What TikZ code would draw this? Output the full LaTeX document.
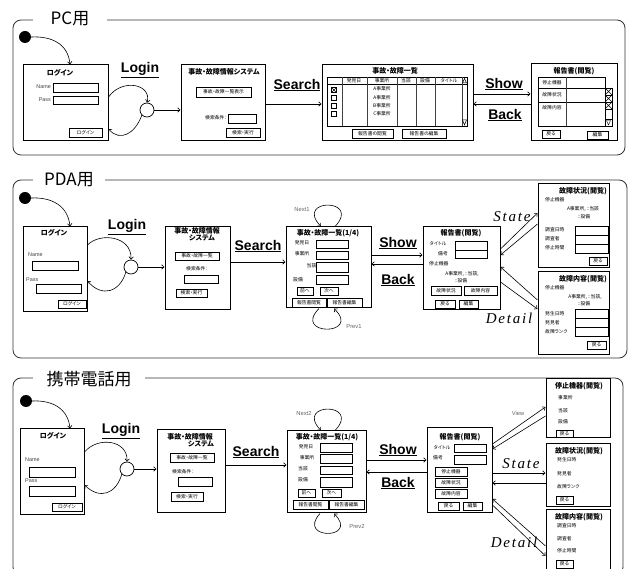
\documentclass[tikz,border=0pt]{standalone}
\usepackage{fontspec}
\setmainfont{Liberation Sans}
\newfontfamily\jp{Noto Sans CJK JP}[RawFeature=+palt]
\newfontfamily\ser{Liberation Serif}
\usetikzlibrary{arrows.meta,fit}
\newcount\tc
\newcommand\tx[3]{\global\advance\tc by 1 \node[#1] (t\the\tc) at (#2) {#3};}
\newcommand\fld[4]{\draw[fldst] (#1,#2) rectangle (#3,#4);}
\newcommand\btn[5]{\draw[btnst] (#1,#2) rectangle (#3,#4); \draw[line width=.9pt] (#1,#4) -- (#3,#4) -- (#3,#2);
  \global\advance\tc by 1 \node[sm] (t\the\tc) at ({(#1+#3)/2},{(#2+#4)/2}) {#5};}
\newcommand\scr[5]{\node[scrbox, fit={(#2,#3)(#4,#5)}] (#1) {};}
\newcommand\cbx[3]{\draw[line width=.5pt] (#1-2.5,#2-2.5) rectangle (#1+2.5,#2+2.5);
  \ifnum#3=1 \draw[line width=.4pt] (#1-2.5,#2-2.5) -- (#1+2.5,#2+2.5) (#1-2.5,#2+2.5) -- (#1+2.5,#2-2.5);\fi}
\tikzset{
  arr/.style={-{Straight Barb[length=2.5pt,width=4.5pt]}, line width=.6pt},
  scrbox/.style={draw, line width=1pt, inner sep=0pt, fill=white},
  frm/.style={draw=black!80, line width=.8pt, rounded corners=8pt, inner sep=0pt},
  ptitle/.style={font=\jp\fontsize{17}{19}\selectfont, fill=white, inner sep=0pt, minimum height=18pt},
  ttl/.style={font=\jp\bfseries\fontsize{7}{7.5}\selectfont, inner sep=0pt},
  sm/.style={font=\jp\fontsize{4.8}{5}\selectfont, inner sep=0pt},
  nm/.style={font=\fontsize{5.4}{6}\selectfont, text=black!75, inner sep=0pt},
  gr/.style={font=\fontsize{5.8}{6}\selectfont, text=black!60, inner sep=0pt},
  big/.style={font=\bfseries\fontsize{14}{16}\selectfont, inner sep=0pt},
  itl/.style={font=\ser\itshape\addfontfeature{LetterSpace=12}\fontsize{15}{17}\selectfont, inner sep=0pt},
  dot/.style={circle, fill=black, minimum size=12pt, inner sep=0pt},
  jc/.style={circle, draw, line width=.7pt, minimum size=14pt, inner sep=0pt, fill=white},
  fldst/.style={line width=.7pt, fill=white},
  btnst/.style={line width=.5pt, fill=white},
  tbl/.style={line width=.6pt},
}
\begin{document}
\begin{tikzpicture}[x=1pt,y=-1pt]
\useasboundingbox (0,0) rectangle (630,569);
\clip (0,0) rectangle (630,569);
\fill[white] (0,0) rectangle (630,569);
%================ PC =================
\node[frm, fit={(13,20)(625,155)}] (pcF) {};
\node[ptitle, minimum width=74pt] (pcT) at (70,19) {PC用};
\node[dot] (pcS) at (25,37) {};
\scr{pcLogin}{23}{65}{108}{141}
\tx{ttl}{60,73}{ログイン}
\tx{nm,anchor=east}{51,87}{Name} \fld{53}{83}{98}{92}
\tx{nm,anchor=east}{51,100}{Pass} \fld{53}{96}{98}{104}
\btn{69}{128}{102}{137}{ログイン}
\node[jc] (pcJ) at (147,110) {};
\tx{big}{140,70}{\underline{Login}}
\scr{pcSys}{181}{65}{265}{141}
\tx{ttl}{224,72}{事故・故障情報システム}
\btn{196}{87}{251}{97}{事故・故障一覧表示}
\tx{sm,anchor=east}{227,118}{検索条件：}
\fld{228}{114}{256}{123}
\btn{226}{128}{260}{137}{検索・実行}
\tx{big}{297,85}{\underline{Search}}
\scr{pcList}{322}{65}{473}{141}
\tx{ttl}{395,71}{事故・故障一覧}
\draw[tbl] (327,77) rectangle (467,126) (327,84) -- (467,84);
\draw[line width=.9pt, black!75] (342,77) -- (342,126) (367,77) -- (367,126) (397,77) -- (397,126) (416,77) -- (416,126) (435,77) -- (435,126) (462,77) -- (462,126);
\draw[line width=.5pt] (462.5,83) -- (464.5,78.5) -- (466.5,83) -- cycle (462.5,120) -- (464.5,125) -- (466.5,120) -- cycle;
\tx{sm}{354,80.5}{発見日}\tx{sm}{382,80.5}{事業所}\tx{sm}{406,80.5}{当該}\tx{sm}{425,80.5}{設備}\tx{sm}{449,80.5}{タイトル}
\cbx{334}{90}{1}\cbx{334}{97.5}{0}\cbx{334}{105.5}{0}\cbx{334}{113.5}{0}
\tx{sm}{382,89}{A事業所}\tx{sm}{382,97.5}{A事業所}\tx{sm}{382,106}{B事業所}\tx{sm}{382,114}{C事業所}
\btn{352}{129}{393}{138}{報告書の閲覧}
\btn{402}{129}{446}{138}{報告書の編集}
\tx{big}{504,84}{\underline{Show}}
\tx{big}{505,115}{\underline{Back}}
\scr{pcRep}{531}{64}{617}{141}
\tx{ttl}{574,71}{報告書(閲覧)}
\draw[tbl] (538,77) rectangle (605,126) (538,88) -- (612,88) (538,102) -- (605,102);
\draw[line width=.9pt, black!75] (566,77) -- (566,126);
\draw[tbl] (605,88) rectangle (612,126) (605,95) -- (612,95) (605,102) -- (612,102) (605,109) -- (612,109) (605,119) -- (612,119);
\draw[line width=.4pt] (605,88) -- (612,95) (605,95) -- (612,88) (605,95) -- (612,102) (605,102) -- (612,95) (605,102) -- (612,109) (605,109) -- (612,102) (606.5,120.5) -- (608.5,125) -- (610.5,120.5) -- cycle;
\tx{sm}{552,82.5}{停止機器}\tx{sm}{552,95}{故障状況}\tx{sm}{552,108}{故障内容}
\btn{542}{130}{560}{138}{戻る}
\btn{587}{131}{608}{139}{編集}
% connectors
\draw[arr] (pcS.east) .. controls (52,36) and (68,44) .. (pcLogin.north -| 70,0);
\draw[arr] (pcLogin.east |- 0,97) .. controls (122,78) and (152,84) .. (pcJ.north);
\draw[arr] (pcJ.south west) .. controls (135,134) and (120,142) .. (pcLogin.east |- 0,129);
\draw[arr] (pcJ.east) -- (pcSys.west |- pcJ.east);
\draw[arr] (pcSys.east |- 0,104) -- (pcList.west |- 0,104);
\draw[arr] (pcList.east |- 0,94) -- (pcRep.west |- 0,94);
\draw[arr] (pcRep.west |- 0,104) -- (pcList.east |- 0,104);
%================ PDA =================
\node[frm, fit={(13,180)(627,358)}] (pdaF) {};
\node[ptitle, minimum width=72pt] (pdaT) at (69,180) {PDA用};
\node[dot] (pdaS) at (25,198) {};
\scr{pdaLogin}{23}{227}{87}{312}
\tx{ttl}{54,233}{ログイン}
\tx{nm,anchor=west}{28,255}{Name} \fld{32}{261}{78}{270}
\tx{nm,anchor=west}{26,280}{Pass} \fld{36}{284}{81}{293}
\btn{58}{300}{86}{308}{ログイン}
\node[jc] (pdaJ) at (131,267) {};
\tx{big}{127,227}{\underline{Login}}
\scr{pdaSys}{165}{227}{230}{310}
\tx{ttl}{197,231}{事故・故障情報}
\tx{ttl}{202,238}{システム}
\btn{175}{252}{219}{260}{事故・故障一覧}
\tx{sm}{197,269}{検索条件：}
\fld{184}{275}{218}{283}
\btn{176}{289}{207}{297}{検索・実行}
\tx{big}{258,246}{\underline{Search}}
\scr{pdaList}{286}{227}{371}{308}
\tx{ttl}{328,233}{事故・故障一覧(1/4)}
\fld{316}{240}{348}{248}\fld{316}{251}{348}{259}\fld{316}{262}{348}{272}\fld{316}{275}{348}{284}
\tx{sm}{302,243}{発見日}\tx{sm}{302,254}{事業所}\tx{sm,anchor=east}{316.5,266}{当該}\tx{sm}{298,280}{設備}
\btn{297}{287}{313}{295}{前へ}
\btn{320}{287}{338}{295}{次へ}
\btn{292}{298}{326}{307}{報告書閲覧}
\btn{327}{298}{362}{307}{報告書編集}
\tx{gr}{302,210}{Next1}
\tx{gr}{354,327}{Prev1}
\tx{big}{398,243}{\underline{Show}}
\tx{big}{398,280}{\underline{Back}}
\scr{pdaRep}{423}{227}{500}{310}
\tx{ttl}{461,233}{報告書(閲覧)}
\tx{sm}{438,244}{タイトル}\fld{455}{241}{487}{250}
\tx{sm}{443,254}{備考}\fld{455}{250}{487}{258}
\tx{sm,anchor=west}{429,264}{停止機器}
\tx{sm}{462,274}{A事業所, ::当該,}
\tx{sm}{461,281}{::設備}
\btn{431}{286}{461}{295}{故障状況}
\btn{464}{286}{497}{295}{故障内容}
\btn{435}{300}{455}{308}{戻る}
\btn{459}{300}{478}{308}{編集}
\tx{itl}{512,217}{State}
\tx{itl}{509,318}{Detail}
\scr{pdaState}{538}{184}{609}{268}
\tx{ttl}{583,191}{故障状況(閲覧)}
\tx{sm,anchor=west}{545,200}{停止機器}
\tx{sm}{583,209}{A事業所, ::当該}
\tx{sm}{584,217}{::設備}
\tx{sm,anchor=west}{545,230}{調査日時}\tx{sm,anchor=west}{545,239}{調査者}\tx{sm,anchor=west}{545,248}{停止時間}
\fld{575}{226}{608}{235}\fld{575}{235}{608}{244}\fld{575}{244}{608}{253}
\btn{589}{257}{607}{265}{戻る}
\scr{pdaDet}{538}{272}{609}{355}
\tx{ttl}{583,279}{故障内容(閲覧)}
\tx{sm,anchor=west}{545,288}{停止機器}
\tx{sm}{585,297}{A事業所, ::当該,}
\tx{sm}{584,304}{::設備}
\tx{sm,anchor=west}{545,314}{発生日時}\tx{sm,anchor=west}{545,323}{発見者}\tx{sm,anchor=west}{545,332}{故障ランク}
\fld{575}{309}{608}{318}\fld{575}{318}{608}{327}\fld{575}{327}{608}{336}
\btn{587}{341}{606}{349}{戻る}
% connectors
\draw[arr] (pdaS.east) .. controls (52,197) and (68,206) .. (pdaLogin.north -| 70,0);
\draw[arr] (pdaLogin.east |- 0,245) .. controls (100,232) and (132,236) .. (pdaJ.north);
\draw[arr] (pdaJ.south west) .. controls (120,292) and (102,298) .. (pdaLogin.east |- 0,281);
\draw[arr] (pdaJ.east) -- (pdaSys.west |- pdaJ.east);
\draw[arr] (pdaSys.east |- 0,262) -- (pdaList.west |- 0,262);
\draw[arr] (pdaList.north -| 335,0) .. controls (362,198) and (294,198) .. (pdaList.north -| 321,0);
\draw[arr] (pdaList.south -| 319,0) .. controls (292,336) and (362,336) .. (pdaList.south -| 334,0);
\draw[arr] (pdaList.east |- 0,255) -- (pdaRep.west |- 0,255);
\draw[arr] (pdaRep.west |- 0,264) -- (pdaList.east |- 0,264);
\draw[arr] (pdaRep.east |- 0,249) -- (pdaState.west |- 0,213);
\draw[arr] (pdaState.west |- 0,224) -- (pdaRep.east |- 0,255);
\draw[arr] (pdaDet.west |- 0,300) -- (pdaRep.east |- 0,267);
\draw[arr] (pdaRep.east |- 0,282) -- (pdaDet.west |- 0,309);
%================ Mobile =================
\node[frm, fit={(13,378)(623,575)}] (mF) {};
\node[ptitle, minimum width=112pt] (mT) at (89,379) {携帯電話用};
\node[dot] (mS) at (26,401) {};
\scr{mLogin}{20}{429}{84}{515}
\tx{ttl}{53,436}{ログイン}
\tx{nm,anchor=west}{25,460}{Name} \fld{29}{467}{75}{477}
\tx{nm,anchor=west}{25,481}{Pass} \fld{29}{486}{75}{496}
\btn{52}{503}{82}{511}{ログイン}
\node[jc] (mJ) at (127,469) {};
\tx{big}{121,431}{\underline{Login}}
\scr{mSys}{157}{430}{225}{513}
\tx{ttl}{190,437}{事故・故障情報}
\tx{ttl}{201,444}{システム}
\btn{170}{453}{214}{462}{事故・故障一覧}
\tx{sm}{183,472}{検索条件：}
\fld{178}{477}{212}{486}
\btn{171}{492}{203}{501}{検索・実行}
\tx{big}{256,452}{\underline{Search}}
\scr{mList}{287}{431}{366}{513}
\tx{ttl}{327,437}{事故・故障一覧(1/4)}
\tx{sm}{306,447}{発見日}\tx{sm}{307,458}{事業所}\tx{sm,anchor=west}{298,469}{当該}\tx{sm,anchor=west}{298,480}{設備}
\fld{320}{443}{352}{452}\fld{320}{454}{352}{463}\fld{320}{466}{352}{474}\fld{320}{477}{352}{487}
\btn{298}{489}{315}{497}{前へ}
\btn{322}{489}{341}{497}{次へ}
\btn{293}{500}{328}{509}{報告書閲覧}
\btn{329}{500}{364}{509}{報告書編集}
\tx{gr}{304,414}{Next2}
\tx{gr}{357,527}{Prev2}
\tx{big}{398,450}{\underline{Show}}
\tx{big}{398,483}{\underline{Back}}
\scr{mRep}{427}{428}{492}{513}
\tx{ttl}{460,437}{報告書(閲覧)}
\tx{sm}{442,448}{タイトル}\fld{454}{444}{486}{452}
\tx{sm}{438,458}{備考}\fld{454}{455}{486}{464}
\btn{435}{467}{467}{476}{停止機器}
\btn{435}{478}{467}{487}{故障状況}
\btn{435}{489}{467}{498}{故障内容}
\btn{438}{502}{459}{510}{戻る}
\btn{463}{502}{482}{510}{編集}
\tx{gr}{518,413}{View}
\tx{itl}{521,464}{State}
\tx{itl}{514,542}{Detail}
\scr{mStop}{546}{379}{610}{438}
\tx{ttl}{579,386}{停止機器(閲覧)}
\tx{sm,anchor=west}{558,398}{事業所}\tx{sm,anchor=west}{558,411}{当該}\tx{sm,anchor=west}{558,422}{設備}
\btn{556}{430}{573}{437}{戻る}
\scr{mState}{546}{444}{610}{507}
\tx{ttl}{579,451}{故障状況(閲覧)}
\tx{sm,anchor=west}{557,460}{発生日時}\tx{sm,anchor=west}{557,474}{発見者}\tx{sm,anchor=west}{557,487}{故障ランク}
\btn{556}{496}{573}{504}{戻る}
\scr{mDet}{546}{510}{610}{580}
\tx{ttl}{579,517}{故障内容(閲覧)}
\tx{sm,anchor=west}{557,526}{調査日時}\tx{sm,anchor=west}{557,539}{調査者}\tx{sm,anchor=west}{557,551}{停止時間}
\btn{556}{560}{573}{568}{戻る}
% connectors
\draw[arr] (mS.east) .. controls (53,400) and (68,409) .. (mLogin.north -| 70,0);
\draw[arr] (mLogin.east |- 0,452) .. controls (98,436) and (128,440) .. (mJ.north);
\draw[arr] (mJ.south west) .. controls (116,494) and (100,500) .. (mLogin.east |- 0,485);
\draw[arr] (mJ.east) -- (mSys.west |- mJ.east);
\draw[arr] (mSys.east |- 0,465) -- (mList.west |- 0,465);
\draw[arr] (mList.north -| 335,0) .. controls (362,402) and (294,402) .. (mList.north -| 321,0);
\draw[arr] (mList.south -| 320,0) .. controls (296,540) and (360,540) .. (mList.south -| 334,0);
\draw[arr] (mList.east |- 0,460) -- (mRep.west |- 0,460);
\draw[arr] (mRep.west |- 0,472) -- (mList.east |- 0,472);
\draw[arr] (mRep.east |- 0,444) -- (mStop.west |- 0,407);
\draw[arr] (mStop.west |- 0,416) -- (mRep.east |- 0,449);
\draw[arr] (mRep.east |- 0,473) -- (mState.west |- 0,473);
\draw[arr] (mState.west |- 0,483) -- (mRep.east |- 0,483);
\draw[arr] (mDet.west |- 0,546) -- (mRep.east |- 0,499);
\draw[arr] (mRep.east |- 0,505) -- (mDet.west |- 0,556);
\end{tikzpicture}
\end{document}
